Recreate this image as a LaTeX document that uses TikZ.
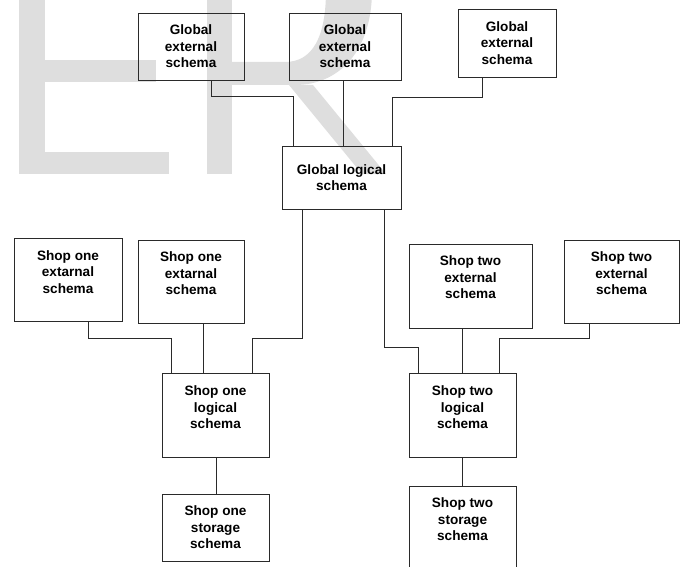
\documentclass[tikz,border=0pt]{standalone}
\usepackage{fontspec}
\setmainfont{Liberation Sans}
\definecolor{wm}{HTML}{DEDEDE}
\definecolor{ln}{HTML}{2A2A2A}
\tikzset{
  box/.style={draw=ln, line width=1.2pt, inner sep=0pt, anchor=north west, rectangle},
  txt/.style={align=center, inner sep=0pt, text=black, font=\fontsize{13.6}{16.6}\selectfont\bfseries},
  conn/.style={draw=ln, line width=1pt},
}
\begin{document}
\begin{tikzpicture}[x=1pt,y=-1pt]
\useasboundingbox (0,0) rectangle (685,567);
\clip (0,0) rectangle (685,567);
% watermark "ER"
\fill[wm] (19,-10) rectangle (45,174);
\fill[wm] (19,60) rectangle (156,82);
\fill[wm] (19,152) rectangle (169,174);
\fill[wm] (207,-10) rectangle (232,174);
\fill[wm] (232,62) -- (285,62) .. controls (312,62) and (326,38) .. (326,-10) -- (372,-10) .. controls (372,50) and (340,85) .. (295,85) -- (232,85) -- cycle;
\fill[wm] (289,85) -- (313,85) -- (386,174) -- (362,174) -- cycle;
% boxes
\node[box, minimum width=106pt, minimum height=67pt] (g1) at (138,13) {};
\node[box, minimum width=112pt, minimum height=67pt] (g2) at (289,13) {};
\node[box, minimum width=98pt, minimum height=68pt] (g3) at (458,9) {};
\node[box, minimum width=119pt, minimum height=63pt] (gl) at (282,146) {};
\node[box, minimum width=108pt, minimum height=83pt] (s1e1) at (14,238) {};
\node[box, minimum width=106pt, minimum height=83pt] (s1e2) at (138,240) {};
\node[box, minimum width=107pt, minimum height=84pt] (s1l) at (162,373) {};
\node[box, minimum width=107pt, minimum height=67pt] (s1s) at (162,494) {};
\node[box, minimum width=123pt, minimum height=84pt] (s2e1) at (409,244) {};
\node[box, minimum width=115pt, minimum height=83pt] (s2e2) at (564,240) {};
\node[box, minimum width=107pt, minimum height=84pt] (s2l) at (409,373) {};
\node[box, minimum width=107pt, minimum height=100pt] (s2s) at (409,486) {};
% texts
\node[txt] (g1t) at (191,46.5) {Global\\external\\schema};
\node[txt] (g2t) at (345,46.5) {Global\\external\\schema};
\node[txt] (g3t) at (507,43) {Global\\external\\schema};
\node[txt] (glt) at (341.5,177.5) {Global logical\\schema};
\node[txt] (s1e1t) at (68,272) {Shop one\\extarnal\\schema};
\node[txt] (s1e2t) at (191,273.5) {Shop one\\extarnal\\schema};
\node[txt] (s1lt) at (215.5,407.5) {Shop one\\logical\\schema};
\node[txt] (s1st) at (215.5,527.5) {Shop one\\storage\\schema};
\node[txt] (s2e1t) at (470.5,277.5) {Shop two\\external\\schema};
\node[txt] (s2e2t) at (621.5,273.5) {Shop two\\external\\schema};
\node[txt] (s2lt) at (462.5,407.5) {Shop two\\logical\\schema};
\node[txt] (s2st) at (462.5,519.5) {Shop two\\storage\\schema};
% connectors
\draw[conn] ([xshift=73pt]g1.south west) |- ([xshift=11pt,yshift=49pt]gl.north west) -- ([xshift=11pt]gl.north west);
\draw[conn] ([xshift=54pt]g2.south west) -- ([xshift=61pt]gl.north west);
\draw[conn] ([xshift=24pt]g3.south west) |- ([xshift=110pt,yshift=48pt]gl.north west) -- ([xshift=110pt]gl.north west);
\draw[conn] ([xshift=20pt]gl.south west) |- ([xshift=90pt,yshift=35pt]s1l.north west) -- ([xshift=90pt]s1l.north west);
\draw[conn] ([xshift=102pt]gl.south west) |- ([xshift=9pt,yshift=26pt]s2l.north west) -- ([xshift=9pt]s2l.north west);
\draw[conn] ([xshift=74pt]s1e1.south west) |- ([xshift=9pt,yshift=35pt]s1l.north west) -- ([xshift=9pt]s1l.north west);
\draw[conn] ([xshift=65pt]s1e2.south west) -- ([xshift=41pt]s1l.north west);
\draw[conn] ([xshift=53pt]s2e1.south west) -- ([xshift=53pt]s2l.north west);
\draw[conn] ([xshift=25pt]s2e2.south west) |- ([xshift=90pt,yshift=35pt]s2l.north west) -- ([xshift=90pt]s2l.north west);
\draw[conn] ([xshift=54pt]s1l.south west) -- ([xshift=54pt]s1s.north west);
\draw[conn] ([xshift=53pt]s2l.south west) -- ([xshift=53pt]s2s.north west);
\end{tikzpicture}
\end{document}
